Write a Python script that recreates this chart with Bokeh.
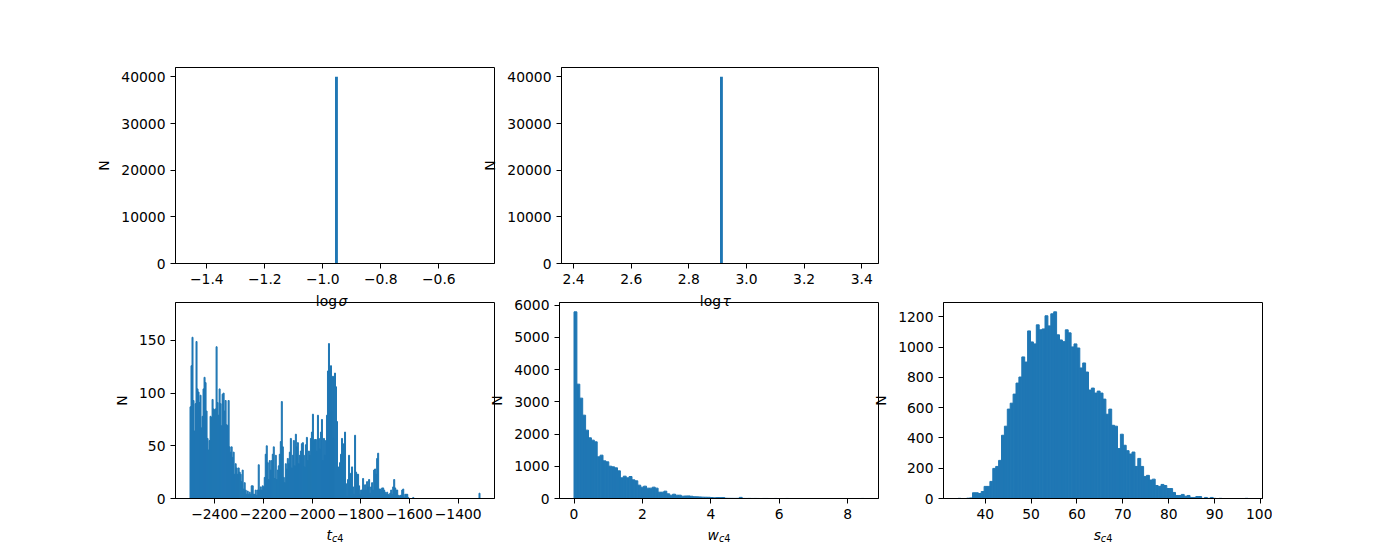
from bokeh.plotting import figure
from bokeh.layouts import column, row
from bokeh.models import Range1d, FixedTicker, CustomJSTickFormatter, Label
from bokeh.embed import file_html
from bokeh.resources import INLINE

# ---------------- data ----------------
# log sigma : all samples fall in one bin of a 100-bin histogram over [v-0.5, v+0.5]
sigma_hist_range = (-1.458, -0.458)
sigma_bin_left = [-0.958]
sigma_bin_width = 0.01
sigma_counts = [40000]

tau_hist_range = (2.408, 3.408)
tau_bin_left = [2.908]
tau_bin_width = 0.01
tau_counts = [40000]

# t_c4
t_start = -2501.0
t_bin_width = 4.12
t_counts = [
    87, 126, 153, 93, 64, 90, 149, 104, 101, 91,
    98, 67, 78, 104, 115, 110, 83, 57, 46, 55,
    78, 77, 94, 85, 84, 85, 144, 91, 79, 104,
    90, 69, 99, 100, 83, 93, 70, 69, 93, 49,
    44, 49, 39, 44, 23, 33, 29, 23, 29, 25,
    23, 16, 27, 9, 15, 8, 4, 7, 4, 6,
    4, 12, 12, 4, 4, 8, 3, 8, 32, 8,
    11, 8, 12, 11, 20, 42, 50, 34, 18, 36,
    27, 36, 42, 49, 19, 41, 18, 27, 31, 42,
    54, 92, 49, 20, 15, 33, 28, 38, 33, 44,
    57, 29, 41, 55, 31,
    61, 49, 53, 33, 41, 45, 52, 53, 41, 30,
    51, 58, 36, 45, 41, 57, 63, 80, 55, 56,
    56, 45, 79, 57, 47, 63, 75, 36, 57, 41,
    55, 79, 121, 147, 121, 126, 83, 116, 57, 119,
    106, 73, 27, 30, 34, 42, 57, 47, 52, 63,
    14, 2, 18, 41, 23, 24, 30, 11, 4, 60,
    25, 23, 23, 12, 4, 8, 8, 19, 8, 13,
    8, 16, 11, 18, 5, 11, 15, 8, 27, 28,
    23, 38, 43, 9, 9, 8, 10, 10, 8, 6,
    4, 6, 4, 3, 5, 8, 4, 11, 18, 10,
    8, 8, 3, 2, 3, 3, 8, 9, 1, 4,
    4, 4, 1,
    0, 0, 0, 0, 1, 0, 0, 0, 0, 0,
    0, 0, 0, 0, 0, 0, 0, 0, 0, 0,
    0, 0, 0, 0, 0, 0, 0, 0, 0, 0,
    0, 0, 0, 0, 0, 0, 0, 0, 0, 0,
    0, 0, 0, 0, 0, 0, 0, 0, 0, 0,
    0, 0, 0, 0, 0, 0, 0, 0, 0, 0,
    0, 0, 0, 0, 0, 0, 0, 0, 0, 0,
    5,
]
t_ylim_top = 186

# w_c4
w_start = 0.0
w_bin_width = 0.0848
w_counts = [
    5790, 3547, 3113, 2585, 2120, 1882, 1810, 1758, 1293, 1344,
    1168, 1137, 1003, 982, 951, 858, 641, 693, 641, 682,
    579, 548, 414, 352, 383, 321, 321, 352, 321, 196,
    196, 228, 145, 103, 134, 103, 103, 72, 78, 80,
    70, 55, 52, 48, 42, 40, 38, 30, 22, 30,
    28, 30, 8, 6, 5, 4, 5, 35, 3, 2,
    3, 1, 2, 1, 0, 1, 1, 0, 0, 1,
    0, 0, 0, 1, 0, 0, 0, 0, 0, 0,
    0, 0, 0, 0, 0, 0, 0, 0, 0, 0,
    0, 0, 0, 0, 0, 0, 0, 0, 0, 1,
]

# s_c4
s_start = 34.07
s_bin_width = 0.632
s_counts = [
    1, 0, 0, 2, 4, 38, 38, 33, 46, 80,
    80, 113, 199, 212, 252, 418, 478, 591, 630, 690,
    763, 803, 936, 902, 1108, 1035, 1022, 1148, 1115, 1121,
    1208, 1141, 1221, 1234, 1082, 1048, 1037, 1115, 1095, 1002,
    1022, 995, 863, 896, 836, 717, 730, 697, 710, 697,
    657, 557, 591, 484, 478, 330, 425, 352, 316, 294,
    307, 212, 265, 212, 146, 153, 122, 128, 86, 80,
    93, 86, 66, 66, 40, 20, 20, 27, 15, 20,
    7, 7, 13, 13, 1, 7, 1, 7, 1, 0,
    1, 0, 0, 0, 0, 0, 0, 0, 0, 1,
]

# tick values
sigma_xticks = [-1.4, -1.2, -1.0, -0.8, -0.6]
tau_xticks = [2.4, 2.6, 2.8, 3.0, 3.2, 3.4]
top_yticks = [0, 10000, 20000, 30000, 40000]
t_xticks = [-2400, -2200, -2000, -1800, -1600, -1400]
t_yticks = [0, 50, 100, 150]
w_xticks = [0, 2, 4, 6, 8]
w_yticks = [0, 1000, 2000, 3000, 4000, 5000, 6000]
s_xticks = [40, 50, 60, 70, 80, 90, 100]
s_yticks = [0, 200, 400, 600, 800, 1000, 1200]

# ---------------- style / layout ----------------
BAR = "#1f77b4"
FONT = "DejaVu Sans"
FS = "13.89px"
SUB = "9.72px"
FRAME_W = 319
FRAME_H = 196
LEFT0 = 175          # left edge of first column frame
TOP0 = 67            # top edge of first row frame
ROW1_BOTTOM = 50
ROW2_TOP = 10
ROW2_SHIFT = -21
COL_LB = 80
COL_SHIFT = -16


def fmt(dec):
    return CustomJSTickFormatter(code="""
        const s = Math.abs(tick).toFixed(%d);
        return (tick < -1e-12 ? '\u2212' : '') + s;
    """ % dec)


def make_fig(lefts, bw, counts, lo, hi, ytop, xticks, yticks, xdec,
             lb, rb, tb, bb, margin, stroke):
    pad = 0.05 * (hi - lo)
    p = figure(width=lb + FRAME_W + rb, height=tb + FRAME_H + bb,
               output_backend="svg", toolbar_location=None, title=None,
               x_range=Range1d(lo - pad, hi + pad), y_range=Range1d(0, ytop),
               min_border_left=lb, min_border_right=rb,
               min_border_top=tb, min_border_bottom=bb)
    p.margin = margin
    p.background_fill_color = None
    p.border_fill_color = None
    p.outline_line_color = "black"
    p.outline_line_width = 1
    p.grid.visible = False
    rights = [l + bw for l in lefts]
    if stroke > 0:
        p.quad(left=lefts, right=rights, bottom=0, top=counts,
               fill_color=BAR, line_color=BAR, line_width=stroke)
    else:
        p.quad(left=lefts, right=rights, bottom=0, top=counts,
               fill_color=BAR, line_color=None)
    for ax in (p.xaxis[0], p.yaxis[0]):
        ax.major_tick_out = 5
        ax.major_tick_in = 0
        ax.minor_tick_line_color = None
        ax.axis_line_color = "black"
        ax.major_tick_line_color = "black"
        ax.major_label_text_font = FONT
        ax.major_label_text_font_size = FS
        ax.major_label_text_color = "black"
        ax.major_label_standoff = 5
    p.xaxis[0].ticker = FixedTicker(ticks=xticks)
    p.yaxis[0].ticker = FixedTicker(ticks=yticks)
    p.xaxis[0].formatter = fmt(xdec)
    p.yaxis[0].formatter = fmt(0)
    p.yaxis[0].axis_label = "N"
    p.yaxis[0].axis_label_text_font = FONT
    p.yaxis[0].axis_label_text_font_size = FS
    p.yaxis[0].axis_label_text_font_style = "normal"
    p.yaxis[0].axis_label_text_color = "black"
    p.yaxis[0].axis_label_standoff = 6
    return p


def lefts_from(start, bw, n):
    return [start + i * bw for i in range(n)]


f1 = make_fig(sigma_bin_left, sigma_bin_width, sigma_counts,
              sigma_hist_range[0], sigma_hist_range[1], max(sigma_counts) * 1.05,
              sigma_xticks, top_yticks, 1, LEFT0, 1, TOP0, ROW1_BOTTOM,
              (0, 0, 0, 0), 0)

f2 = make_fig(tau_bin_left, tau_bin_width, tau_counts,
              tau_hist_range[0], tau_hist_range[1], max(tau_counts) * 1.05,
              tau_xticks, top_yticks, 1, COL_LB, 1, TOP0, ROW1_BOTTOM,
              (0, 0, 0, COL_SHIFT), 0)

t_lefts = lefts_from(t_start, t_bin_width, len(t_counts))
f4 = make_fig(t_lefts, t_bin_width, t_counts,
              t_lefts[0], t_lefts[-1] + t_bin_width, t_ylim_top,
              t_xticks, t_yticks, 0, LEFT0, 1, ROW2_TOP, 50,
              (ROW2_SHIFT, 0, 0, 0), 1)

w_lefts = lefts_from(w_start, w_bin_width, len(w_counts))
f5 = make_fig(w_lefts, w_bin_width, w_counts,
              w_lefts[0], w_lefts[-1] + w_bin_width, max(w_counts) * 1.05,
              w_xticks, w_yticks, 0, COL_LB, 1, ROW2_TOP, 50,
              (ROW2_SHIFT, 0, 0, COL_SHIFT), 1)

s_lefts = lefts_from(s_start, s_bin_width, len(s_counts))
f6 = make_fig(s_lefts, s_bin_width, s_counts,
              s_lefts[0], s_lefts[-1] + s_bin_width, max(s_counts) * 1.05,
              s_xticks, s_yticks, 0, COL_LB, 10, ROW2_TOP, 50,
              (ROW2_SHIFT, 0, 0, COL_SHIFT), 1)

# page geometry (pixels from the top-left of the layout)
row1_h = TOP0 + FRAME_H + ROW1_BOTTOM
row2_top = row1_h + ROW2_SHIFT
row2_h = ROW2_TOP + FRAME_H + 50
total_w = f4.width + (f5.width + COL_SHIFT) + (f6.width + COL_SHIFT)
total_h = row2_top + row2_h

col_frame_left = [LEFT0,
                  f4.width + COL_SHIFT + COL_LB,
                  f4.width + f5.width + 2 * COL_SHIFT + COL_LB]
row1_frame_bottom = TOP0 + FRAME_H
row2_frame_bottom = row2_top + ROW2_TOP + FRAME_H

# transparent overlay carrying the mathtext-like x labels
ov = figure(width=total_w, height=total_h, output_backend="svg",
            toolbar_location=None, title=None,
            x_range=Range1d(0, total_w), y_range=Range1d(total_h, 0),
            x_axis_location=None, y_axis_location=None,
            min_border_left=0, min_border_right=0, min_border_top=0,
            min_border_bottom=0)
ov.margin = (-total_h, 0, 0, 0)
ov.background_fill_color = None
ov.border_fill_color = None
ov.outline_line_color = None
ov.grid.visible = False


def lab(x, y, text, size=FS, italic=False, align="left"):
    ov.add_layout(Label(x=x, y=y, text=text,
                        text_font=FONT, text_font_size=size,
                        text_font_style="italic" if italic else "normal",
                        text_color="black", text_align=align,
                        text_baseline="alphabetic"))


def log_label(col, sym):
    cx = col_frame_left[col] + FRAME_W / 2
    y = row1_frame_bottom + 37
    lab(cx + 2, y, "log", align="right")
    lab(cx + 3.5, y, sym, italic=True)


def sub_label(col, main, main_w):
    cx = col_frame_left[col] + FRAME_W / 2
    start = cx - (main_w + 11.5) / 2
    y = row2_frame_bottom + 36
    lab(start, y, main, italic=True)
    lab(start + main_w, y + 3.5, "c", size=SUB, italic=True)
    lab(start + main_w + 5.35, y + 3.5, "4", size=SUB)


log_label(0, "σ")
log_label(1, "τ")
sub_label(0, "t", 5.4)
sub_label(1, "w", 11.4)
sub_label(2, "s", 7.2)

layout = column(row(f1, f2), row(f4, f5, f6), ov)

with open("out.html", "w") as fh:
    fh.write(file_html(layout, INLINE))
